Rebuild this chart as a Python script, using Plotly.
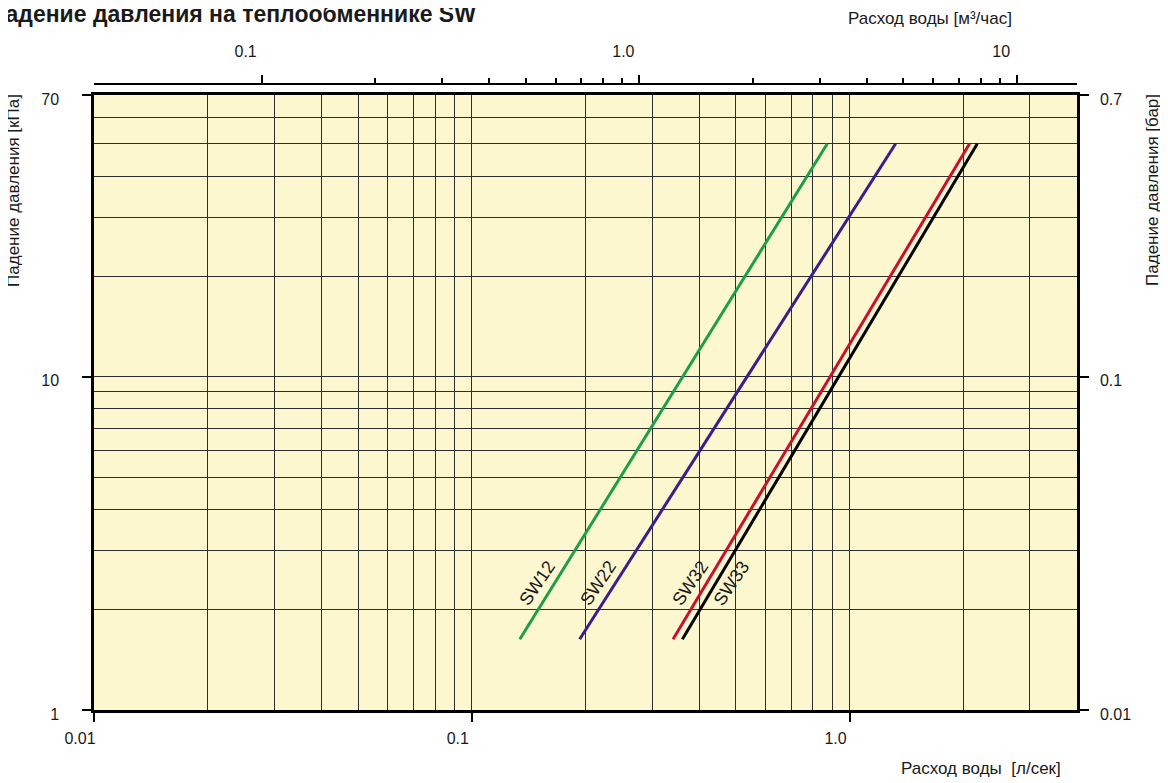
import math
import plotly.graph_objects as go

# ---- data ----
models = ["SW12", "SW22", "SW32", "SW33"]
colors = ["#1f9e48", "#3a1f8c", "#c8102e", "#000000"]
flow_min_ls = [0.134, 0.193, 0.341, 0.361]   # l/s at lower end
flow_max_ls = [0.873, 1.324, 2.078, 2.178]   # l/s at upper end
dp_min_kpa = [1.63, 1.63, 1.63, 1.63]
dp_max_kpa = [50, 50, 50, 50]
label_dp_kpa = 2.4
label_xshift = [-17, -17, -16, 16]

x_ticks_ls = [0.01, 0.1, 1]
x_ticktext_ls = ["0.01", "0.1", "1.0"]
x_minor_ls = [0.02, 0.03, 0.04, 0.05, 0.06, 0.07, 0.08, 0.09,
              0.2, 0.3, 0.4, 0.5, 0.6, 0.7, 0.8, 0.9, 2, 3]
x_ticks_m3h = [0.1, 1, 10]
x_ticktext_m3h = ["0.1", "1.0", "10"]
x_minor_m3h = [0.2, 0.3, 0.4, 0.5, 0.6, 0.7, 0.8, 0.9, 2, 3, 4, 5, 6, 7, 8, 9]
y_ticks_kpa = [1, 10, 70]
y_ticktext_kpa = ["1", "10", "70"]
y_minor_kpa = [2, 3, 4, 5, 6, 7, 8, 9, 20, 30, 40, 50, 60]
y_ticks_bar = [0.01, 0.1, 0.7]
y_ticktext_bar = ["0.01", "0.1", "0.7"]

x_range_ls = [0.01, 4.0]
y_range_kpa = [1, 70]
LS_TO_M3H = 3.6
KPA_TO_BAR = 0.01

FONT = "Arial, Liberation Sans, Helvetica, sans-serif"
TXT = "#1a1a1a"
GRID = "#2e2e2e"

fig = go.Figure()
for i, m in enumerate(models):
    fig.add_trace(go.Scatter(
        x=[flow_min_ls[i], flow_max_ls[i]], y=[dp_min_kpa[i], dp_max_kpa[i]],
        mode="lines", line=dict(color=colors[i], width=3),
        showlegend=False, hoverinfo="skip"))

# helper trace for the secondary axes
fig.add_trace(go.Scatter(x=[None], y=[None], xaxis="x2", yaxis="y2",
                         showlegend=False, hoverinfo="skip"))

annotations = []
for i, m in enumerate(models):
    t = (math.log10(label_dp_kpa) - math.log10(dp_min_kpa[i])) / (
        math.log10(dp_max_kpa[i]) - math.log10(dp_min_kpa[i]))
    xl = math.log10(flow_min_ls[i]) + t * (math.log10(flow_max_ls[i]) - math.log10(flow_min_ls[i]))
    annotations.append(dict(x=xl, y=math.log10(label_dp_kpa), xref="x", yref="y",
                            text=m, showarrow=False, textangle=-56,
                            xshift=label_xshift[i],
                            font=dict(family=FONT, size=18, color=TXT)))

annotations += [
    dict(text="<b>Падение давления на теплообменнике SW</b>", x=0.3906, y=1.112,
         xref="paper", yref="paper", xanchor="right", yanchor="middle", showarrow=False,
         font=dict(family=FONT, size=23, color=TXT)),
    dict(text="Расход воды [м³/час]", x=0.8505, y=1.1054, xref="paper", yref="paper",
         xanchor="center", yanchor="middle", showarrow=False,
         font=dict(family=FONT, size=17, color=TXT)),
    dict(text="Расход воды  [л/сек]", x=0.9023, y=-0.0942, xref="paper", yref="paper",
         xanchor="center", yanchor="middle", showarrow=False,
         font=dict(family=FONT, size=17, color=TXT)),
    dict(text="Падение давления [кПа]", x=-0.0814, y=0.8307, xref="paper", yref="paper",
         xanchor="center", yanchor="middle", showarrow=False, textangle=-90,
         font=dict(family=FONT, size=17, color=TXT)),
    dict(text="Падение давления [бар]", x=1.0773, y=0.8307, xref="paper", yref="paper",
         xanchor="center", yanchor="middle", showarrow=False, textangle=-90,
         font=dict(family=FONT, size=17, color=TXT)),
]

tickfont = dict(family=FONT, size=16, color=TXT)

fig.update_layout(
    width=1168, height=783,
    margin=dict(l=86, r=99, t=76, b=81, pad=0),
    paper_bgcolor="white", plot_bgcolor="#FDF7D0",
    showlegend=False,
    annotations=annotations,
    xaxis=dict(type="log",
               range=[math.log10(x_range_ls[0]), math.log10(x_range_ls[1])],
               tickmode="array", tickvals=x_ticks_ls, ticktext=x_ticktext_ls,
               ticks="outside", ticklen=9, tickwidth=2, tickcolor="black",
               tickfont=tickfont, ticklabelshift=-14, ticklabelstandoff=3,
               showline=True, linewidth=2.5, linecolor="black", mirror=True,
               showgrid=True, gridcolor=GRID, gridwidth=1.2,
               minor=dict(tickmode="array", tickvals=x_minor_ls, ticks="",
                          showgrid=True, gridcolor=GRID, gridwidth=1.2),
               zeroline=False, fixedrange=True),
    yaxis=dict(type="log", domain=[0, 0.9824],
               range=[math.log10(y_range_kpa[0]), math.log10(y_range_kpa[1])],
               tickmode="array", tickvals=y_ticks_kpa, ticktext=y_ticktext_kpa,
               ticks="outside", ticklen=9, tickwidth=2, tickcolor="black",
               tickfont=tickfont, ticklabelshift=4, ticklabelstandoff=20,
               showline=True, linewidth=2.5, linecolor="black",
               showgrid=True, gridcolor=GRID, gridwidth=1.2,
               minor=dict(tickmode="array", tickvals=y_minor_kpa, ticks="",
                          showgrid=True, gridcolor=GRID, gridwidth=1.2),
               zeroline=False, fixedrange=True),
    xaxis2=dict(type="log", overlaying="x", side="top", anchor="free", position=1,
                range=[math.log10(x_range_ls[0] * LS_TO_M3H), math.log10(x_range_ls[1] * LS_TO_M3H)],
                tickmode="array", tickvals=x_ticks_m3h, ticktext=x_ticktext_m3h,
                ticks="outside", ticklen=8, tickwidth=2, tickcolor="black",
                tickfont=tickfont, ticklabelshift=-16, ticklabelstandoff=12,
                showline=True, linewidth=2, linecolor="black", showgrid=False,
                minor=dict(tickmode="array", tickvals=x_minor_m3h, ticks="outside",
                           ticklen=5, tickwidth=1.5, tickcolor="black", showgrid=False),
                zeroline=False, fixedrange=True),
    yaxis2=dict(type="log", overlaying="y", side="right", anchor="x",
                range=[math.log10(y_range_kpa[0] * KPA_TO_BAR), math.log10(y_range_kpa[1] * KPA_TO_BAR)],
                tickmode="array", tickvals=y_ticks_bar, ticktext=y_ticktext_bar,
                ticks="outside", ticklen=9, tickwidth=2, tickcolor="black",
                tickfont=tickfont, ticklabelshift=4, ticklabelstandoff=8,
                showline=True, linewidth=2.5, linecolor="black", showgrid=False,
                zeroline=False, fixedrange=True),
)

fig.write_html("out.html")
